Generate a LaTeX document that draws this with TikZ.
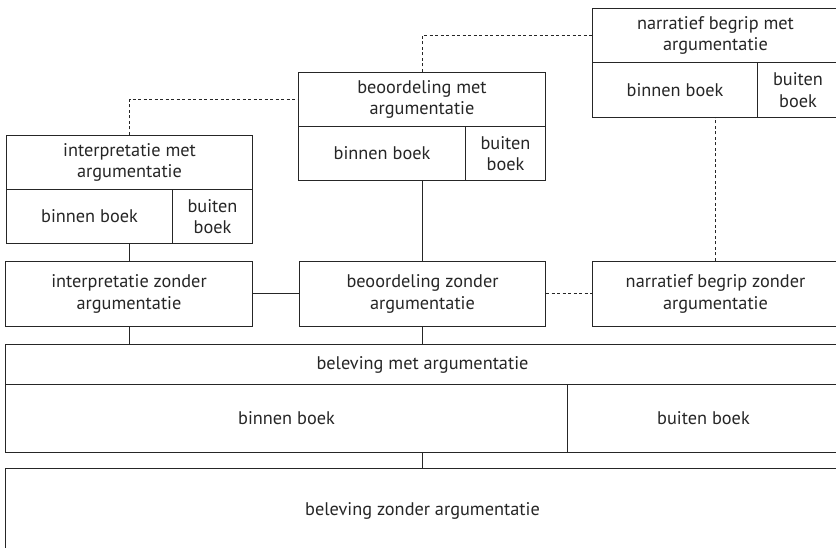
\documentclass[tikz,border=0pt]{standalone}
\usepackage{fontspec}
\setmainfont{PT Sans}
\begin{document}
\begin{tikzpicture}[x=1pt,y=1pt,
  cell/.style={draw=black!85, line width=1pt, anchor=north west, inner sep=0pt, align=center, text=black!85, font=\fontsize{18.3}{21.7}\selectfont},
  link/.style={draw=black!85, line width=1pt},
  dlink/.style={draw=black!85, line width=1pt, dash pattern=on 3pt off 2.5pt}]
\useasboundingbox (0,0) rectangle (836,-548);
\clip (0,0) rectangle (836,-548);
% interpretatie met
\node[cell, minimum width=246, minimum height=54] (im) at (6,-135) {interpretatie met\\argumentatie};
\node[cell, minimum width=166, minimum height=54] (imb) at (6,-189) {binnen boek};
\node[cell, minimum width=80, minimum height=54] (imu) at (172,-189) {buiten\\boek};
% beoordeling met
\node[cell, minimum width=247, minimum height=54] (bm) at (298,-72) {beoordeling met\\argumentatie};
\node[cell, minimum width=167, minimum height=54] (bmb) at (298,-126) {binnen boek};
\node[cell, minimum width=80, minimum height=54] (bmu) at (465,-126) {buiten\\boek};
% narratief met
\node[cell, minimum width=246, minimum height=54] (nm) at (592,-8) {narratief begrip met\\argumentatie};
\node[cell, minimum width=165, minimum height=55] (nmb) at (592,-62) {binnen boek};
\node[cell, minimum width=81, minimum height=55] (nmu) at (757,-62) {buiten\\boek};
% zonder row
\node[cell, minimum width=247, minimum height=65] (iz) at (5,-261) {interpretatie zonder\\argumentatie};
\node[cell, minimum width=246, minimum height=65] (bz) at (299,-261) {beoordeling zonder\\argumentatie};
\node[cell, minimum width=246, minimum height=65] (nz) at (592,-261) {narratief begrip zonder\\argumentatie};
% beleving met
\node[cell, minimum width=834, minimum height=40] (blm) at (5,-344) {beleving met argumentatie};
\node[cell, minimum width=562, minimum height=68] (blmb) at (5,-384) {binnen boek};
\node[cell, minimum width=272, minimum height=68] (blmu) at (567,-384) {buiten boek};
% beleving zonder
\node[cell, minimum width=834, minimum height=84] (blz) at (5,-468) {beleving zonder argumentatie};
% connectors
\draw[dlink] (im.north) |- (bm.west);
\draw[dlink] (bm.north) |- (nm.west);
\draw[dlink] (nz.north) -- (nz.north |- nmb.south);
\draw[link] (iz.north) -- (iz.north |- imb.south);
\draw[link] (bz.north) -- (bz.north |- bmb.south);
\draw[link] (iz.east) -- (bz.west);
\draw[dlink] (bz.east) -- (nz.west);
\draw[link] (iz.south) -- (iz.south |- blm.north);
\draw[link] (bz.south) -- (bz.south |- blm.north);
\draw[link] (bz.south |- blmb.south) -- (bz.south |- blz.north);
\end{tikzpicture}
\end{document}
